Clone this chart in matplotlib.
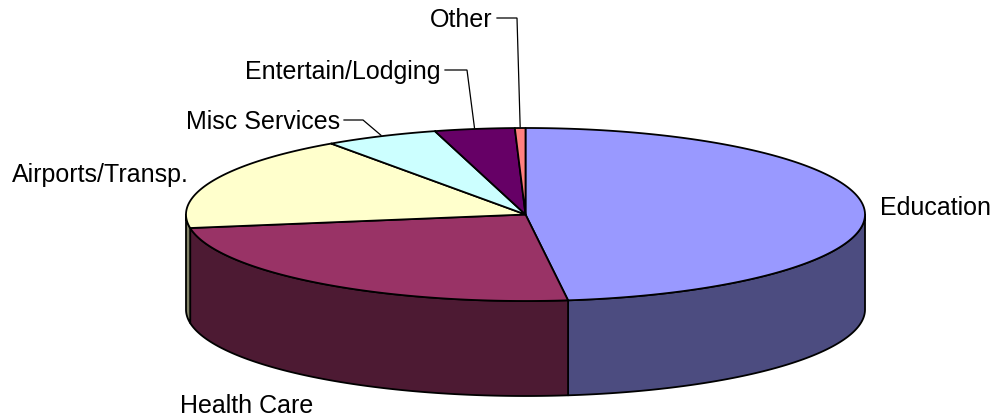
import numpy as np
import matplotlib
matplotlib.use("Agg")
import matplotlib.pyplot as plt
from matplotlib.patches import Polygon

# ---- data ----
categories = ["Education", "Health Care", "Airports/Transp.", "Misc Services",
              "Entertain/Lodging", "Other"]
values = [48.0, 24.5, 17.8, 5.4, 3.8, 0.5]
top_colors = ["#9999FF", "#993366", "#FFFFCC", "#CCFFFF", "#660066", "#FF8080"]
side_colors = ["#4C4C80", "#4D1A33", "#808066", "#668080", "#330033", "#804040"]

# ---- layout (pixel space) ----
W, H = 998, 419
cx, cy = 525.5, 214.5      # centre of top ellipse
a, b = 339.5, 86.5         # semi-axes
depth = 95                 # thickness of the pie

fig = plt.figure(figsize=(W / 100, H / 100), dpi=100)
ax = fig.add_axes([0, 0, 1, 1])
ax.set_xlim(0, W)
ax.set_ylim(H, 0)
ax.axis("off")

FONT = ["Liberation Sans", "DejaVu Sans"]
lw = 1.3


def pt(theta_deg, dz=0.0):
    t = np.radians(theta_deg)
    return cx + a * np.cos(t), cy - b * np.sin(t) + dz


# angles (start at 12 o'clock, clockwise)
vals = np.array(values, dtype=float)
fr = vals / vals.sum()
starts = 90 - 360 * np.concatenate([[0], np.cumsum(fr)[:-1]])
ends = starts - 360 * fr

# ---- side walls (front half: angles between -180 and 0) ----
for s, e, col in zip(starts, ends, side_colors):
    # normalise: slice spans [e, s] with e < s
    hi, lo = s, e
    for shift in (0, -360, 360):
        h2, l2 = hi + shift, lo + shift
        lo_c, hi_c = max(l2, -180), min(h2, 0)
        if hi_c > lo_c:
            th = np.linspace(lo_c, hi_c, 200)
            top = [pt(t) for t in th]
            bot = [pt(t, depth) for t in th[::-1]]
            poly = Polygon(top + bot, closed=True, facecolor=col,
                           edgecolor="black", linewidth=lw, joinstyle="round")
            ax.add_patch(poly)

# ---- top faces ----
for s, e, col in zip(starts, ends, top_colors):
    th = np.linspace(s, e, max(int(abs(s - e) * 3), 4))
    pts = [(cx, cy)] + [pt(t) for t in th]
    ax.add_patch(Polygon(pts, closed=True, facecolor=col, edgecolor="black",
                         linewidth=lw, joinstyle="round"))

# ---- labels ----
fs = 18
mids = (starts + ends) / 2

# Education (right, no leader)
ax.text(880, 208, categories[0], fontsize=fs, family=FONT, ha="left", va="center")
# Health Care (bottom)
ax.text(180, 406, categories[1], fontsize=fs, family=FONT, ha="left", va="center")
# Airports (left)
ax.text(12, 175, categories[2], fontsize=fs, family=FONT, ha="left", va="center")

# labels with leader lines: (index, text right x, text y, elbow x)
leaders = [(3, 340, 122, 363), (4, 441, 72, 467), (5, 493, 20, 517)]
for idx, tx, ty, ex in leaders:
    ax.text(tx, ty, categories[idx], fontsize=fs, family=FONT, ha="right",
            va="center")
    px, py = pt(mids[idx])
    ax.plot([tx + 4, ex, px], [ty - 2, ty - 2, py - 1], color="black",
            linewidth=0.9, solid_joinstyle="miter")

fig.savefig("out.png", dpi=100)
